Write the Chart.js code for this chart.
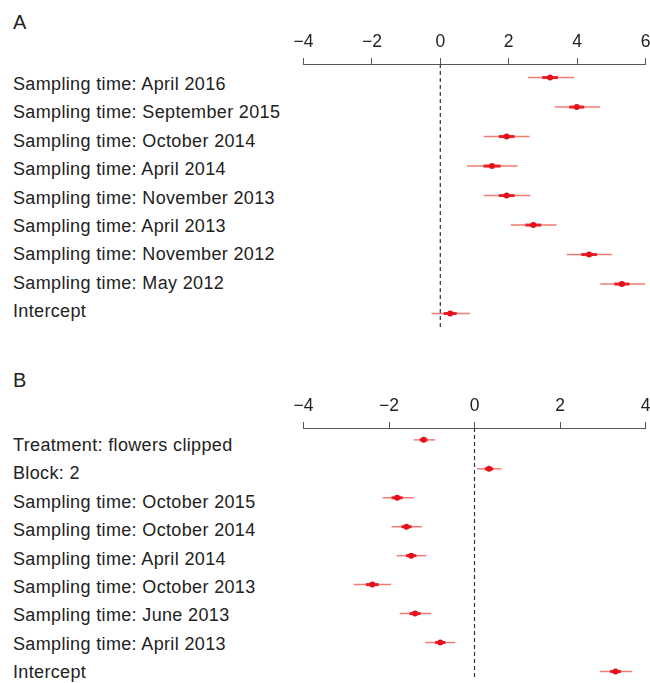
<!DOCTYPE html>
<html>
<head>
<meta charset="utf-8">
<script src="https://cdn.jsdelivr.net/npm/chart.js@4"></script>
<style>
  body { margin: 0; background: #fff; }
  #wrap { position: relative; width: 650px; height: 683px; overflow: hidden; font-family: "Liberation Sans", Arial, sans-serif; color: #222; }
  .panel-letter { position: absolute; left: 13px; font-size: 20px; line-height: 20px; }
  .labels { position: absolute; left: 13px; font-size: 18px; letter-spacing: 0.35px; line-height: 28.4px; white-space: nowrap; }
  canvas { position: absolute; left: 0; }
</style>
</head>
<body>
<div id="wrap">
  <div class="panel-letter" style="top:12px">A</div>
  <div class="labels" id="labelsA" style="top:70px"></div>
  <canvas id="chartA" width="650" height="332" style="top:0"></canvas>

  <div class="panel-letter" style="top:370px">B</div>
  <div class="labels" id="labelsB" style="top:431px"></div>
  <canvas id="chartB" width="650" height="319" style="top:364px"></canvas>
</div>
<script>
// Panel A
const termsA = ['Sampling time: April 2016', 'Sampling time: September 2015', 'Sampling time: October 2014',
  'Sampling time: April 2014', 'Sampling time: November 2013', 'Sampling time: April 2013',
  'Sampling time: November 2012', 'Sampling time: May 2012', 'Intercept'];
const estA = [3.21, 3.99, 1.94, 1.51, 1.94, 2.72, 4.35, 5.31, 0.29];
const lowA = [2.57, 3.35, 1.27, 0.78, 1.27, 2.06, 3.70, 4.68, -0.26];
const highA = [3.91, 4.67, 2.61, 2.26, 2.63, 3.40, 5.02, 5.99, 0.87];
const innerLowA = [2.98, 3.77, 1.71, 1.26, 1.71, 2.49, 4.12, 5.09, 0.10];
const innerHighA = [3.44, 4.21, 2.17, 1.76, 2.17, 2.95, 4.58, 5.53, 0.48];
const ticksA = [-4, -2, 0, 2, 4, 6];

// Panel B
const termsB = ['Treatment: flowers clipped', 'Block: 2', 'Sampling time: October 2015',
  'Sampling time: October 2014', 'Sampling time: April 2014', 'Sampling time: October 2013',
  'Sampling time: June 2013', 'Sampling time: April 2013', 'Intercept'];
const estB = [-1.19, 0.34, -1.81, -1.59, -1.48, -2.39, -1.39, -0.80, 3.30];
const lowB = [-1.42, 0.06, -2.15, -1.94, -1.82, -2.83, -1.75, -1.15, 2.94];
const highB = [-0.92, 0.63, -1.42, -1.23, -1.12, -1.95, -1.01, -0.45, 3.69];
const innerLowB = [-1.28, 0.24, -1.94, -1.71, -1.60, -2.54, -1.52, -0.92, 3.17];
const innerHighB = [-1.10, 0.44, -1.68, -1.47, -1.36, -2.24, -1.26, -0.68, 3.43];
const ticksB = [-4, -2, 0, 2, 4];

const FONT = '"Liberation Sans", Arial, sans-serif';

// Write the row labels
function fillLabels(id, terms) {
  const box = document.getElementById(id);
  terms.forEach(t => {
    const d = document.createElement('div');
    d.textContent = t;
    box.appendChild(d);
  });
}
fillLabels('labelsA', termsA);
fillLabels('labelsB', termsB);

// Draw the interval lines behind the points
const errorBars = {
  id: 'errorBars',
  beforeDatasetsDraw(chart, args, opts) {
    const { ctx, scales: { x, y } } = chart;
    ctx.save();
    ctx.lineCap = 'butt';
    opts.low.forEach((lo, i) => {
      const py = y.getPixelForValue(i + 1);
      ctx.strokeStyle = 'rgba(240, 90, 80, 0.8)';
      ctx.lineWidth = 1.5;
      ctx.beginPath();
      ctx.moveTo(x.getPixelForValue(lo), py);
      ctx.lineTo(x.getPixelForValue(opts.high[i]), py);
      ctx.stroke();
      ctx.strokeStyle = '#ea2028';
      ctx.lineWidth = 3;
      ctx.beginPath();
      ctx.moveTo(x.getPixelForValue(opts.innerLow[i]), py);
      ctx.lineTo(x.getPixelForValue(opts.innerHigh[i]), py);
      ctx.stroke();
    });
    ctx.restore();
  }
};

function makeChart(id, est, low, high, innerLow, innerHigh, ticks, yMin, yMax) {
  const xMin = ticks[0], xMax = ticks[ticks.length - 1];
  return new Chart(document.getElementById(id), {
    type: 'scatter',
    data: {
      datasets: [
        {
          type: 'line',
          data: [{ x: 0, y: yMin }, { x: 0, y: yMax }],
          borderColor: '#333',
          borderWidth: 1.2,
          borderDash: [4, 3],
          pointRadius: 0
        },
        {
          data: est.map((v, i) => ({ x: v, y: i + 1 })),
          backgroundColor: '#e5101c',
          borderColor: '#e5101c',
          borderWidth: 0,
          pointRadius: 3
        }
      ]
    },
    options: {
      responsive: false,
      animation: false,
      layout: { padding: { left: 303.5, right: 4.5, top: 0, bottom: 0 } },
      plugins: {
        legend: { display: false },
        tooltip: { enabled: false },
        errorBars: { low, high, innerLow, innerHigh }
      },
      scales: {
        x: {
          type: 'linear',
          position: 'top',
          min: xMin,
          max: xMax,
          afterBuildTicks: scale => { scale.ticks = ticks.map(v => ({ value: v })); },
          afterFit: scale => {
            scale.height = 64;
            scale.paddingLeft = 0;
            scale.paddingRight = 0;
          },
          grid: { drawOnChartArea: false, drawTicks: true, tickLength: 6, color: '#555', lineWidth: 1 },
          border: { display: true, color: '#555', width: 1 },
          ticks: {
            padding: 5,
            maxRotation: 0,
            color: '#222',
            font: { family: FONT, size: 17.5 },
            callback: v => (v < 0 ? '\u2212' + Math.abs(v) : String(v))
          }
        },
        y: {
          type: 'linear',
          display: false,
          reverse: true,
          min: yMin,
          max: yMax
        }
      }
    },
    plugins: [errorBars]
  });
}

makeChart('chartA', estA, lowA, highA, innerLowA, innerHighA, ticksA, 0.54, 9.49);
makeChart('chartB', estB, lowB, highB, innerLowB, innerHighB, ticksB, 0.59, 9.26);
</script>
</body>
</html>
